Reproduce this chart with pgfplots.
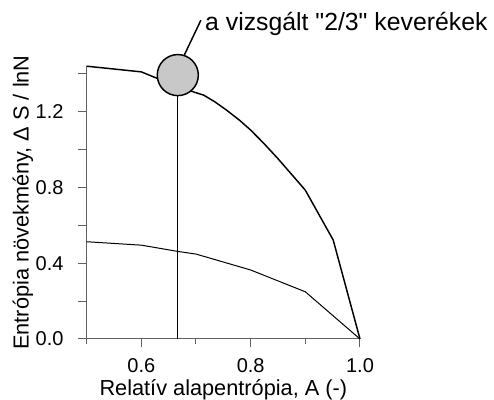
\documentclass[border=0pt]{standalone}
\usepackage{fontspec}
\setmainfont{Liberation Sans}
\usepackage{pgfplots}
\pgfplotsset{compat=1.18}
\definecolor{axgray}{RGB}{96,96,96}
\definecolor{circgray}{RGB}{200,200,200}
\begin{document}
\begin{tikzpicture}
\begin{axis}[
  scale only axis,
  width=205pt, height=204.75pt,
  xmin=0.5, xmax=1.0,
  ymin=0, ymax=1.44,
  axis lines=left,
  axis line style={-, axgray, line width=0.75pt},
  clip=false,
  xtick={0.6,0.8,1.0},
  minor xtick={0.5,0.7,0.9},
  ytick={0,0.4,0.8,1.2},
  minor ytick={0.2,0.6,1.0,1.4},
  tick align=outside,
  major tick length=6.2pt,
  minor tick length=3.6pt,
  minor y tick style={/pgfplots/minor tick length=6.2pt},
  tick style={axgray, line width=0.75pt},
  /pgf/number format/assume math mode=true,
  tick label style={font=\fontsize{15}{18}\selectfont},
  xticklabel style={/pgf/number format/.cd, fixed, fixed zerofill, precision=1, /tikz/.cd,
    anchor=north, inner sep=0pt, yshift=-8.5pt},
  yticklabel style={/pgf/number format/.cd, fixed, fixed zerofill, precision=1, /tikz/.cd,
    anchor=east, inner sep=0pt, xshift=-11pt},
  xlabel={Relatív alapentrópia, A (-)},
  ylabel={Entrópia növekmény, Δ S / lnN},
  every axis x label/.style={at={(axis description cs:0.5,-0.186)}, anchor=center,
    inner sep=0pt, font=\fontsize{16.3}{19}\selectfont},
  every axis y label/.style={at={(axis description cs:-0.233,0.5)}, anchor=center, rotate=90,
    font=\fontsize{16.3}{19}\selectfont},
]
% vertical marker at A = 2/3
\addplot[black, line width=0.75pt] coordinates {(0.6667,0) (0.6667,1.284)};
% circle marking the studied mixtures
\addplot[only marks, mark=*, mark size=15.4pt,
  mark options={fill=circgray, draw=black, line width=1.1pt}] coordinates {(0.6667,1.392)};
% leader line to annotation
\addplot[black, line width=1.1pt] coordinates {(0.6785,1.497) (0.709,1.682)};
\node[anchor=base west, inner sep=0pt, font=\fontsize{18.6}{21}\selectfont]
  at (axis cs:0.7164,1.625) {a vizsgált \textquotedbl 2/3\textquotedbl\ keverékek};
% upper curve
\addplot[black, line width=1.1pt] coordinates {
  (0.5,1.439) (0.6,1.409) (0.6667,1.33) (0.7143,1.286) (0.735,1.25)
  (0.756,1.207) (0.78,1.153) (0.80,1.102) (0.825,1.029) (0.85,0.951)
  (0.9,0.785) (0.951,0.522) (1.0,0)
};
% lower curve
\addplot[black, line width=0.75pt] coordinates {
  (0.5,0.513) (0.6,0.495) (0.6667,0.462) (0.7,0.448) (0.8,0.364)
  (0.9,0.249) (1.0,0)
};
\end{axis}
\pgfresetboundingbox
\path (-65pt,-45.75pt) rectangle (305.5pt,254.25pt);
\end{tikzpicture}
\end{document}
